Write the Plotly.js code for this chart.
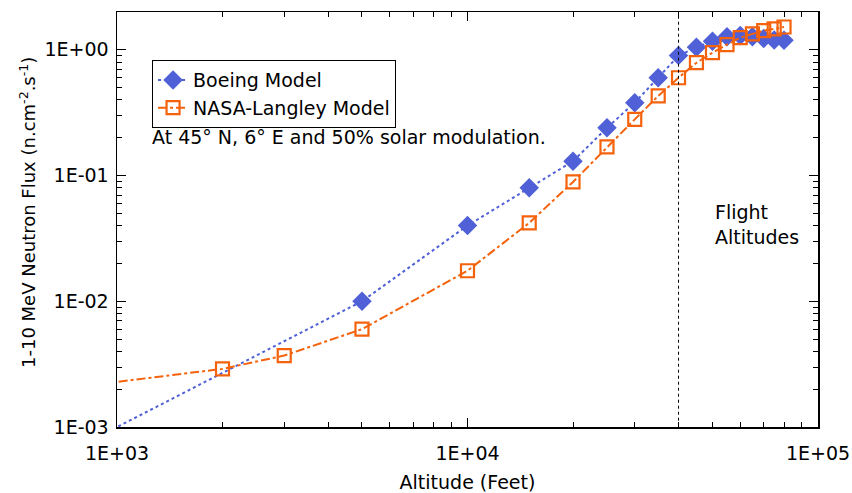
<!DOCTYPE html>
<html>
<head>
<meta charset="utf-8">
<script src="https://cdn.plot.ly/plotly-3.0.1.min.js"></script>
<style>html,body{margin:0;padding:0;background:#fff;}#chart{width:852px;height:493px;}</style>
</head>
<body>
<div id="chart"></div>
<script>
// Altitude in feet
const boeingAltitude = [500, 5000, 10000, 15000, 20000, 25000, 30000, 35000, 40000, 45000, 50000, 55000, 60000, 65000, 70000, 75000, 80000];
const boeingFlux = [0.00037, 0.01, 0.04, 0.08, 0.13, 0.24, 0.38, 0.6, 0.9, 1.05, 1.17, 1.27, 1.3, 1.27, 1.23, 1.2, 1.19];

const nasaAltitude = [500, 2000, 3000, 5000, 10000, 15000, 20000, 25000, 30000, 35000, 40000, 45000, 50000, 55000, 60000, 65000, 70000, 75000, 80000];
const nasaFlux = [0.0018, 0.0029, 0.0037, 0.006, 0.0175, 0.042, 0.089, 0.169, 0.28, 0.43, 0.6, 0.79, 0.95, 1.1, 1.25, 1.34, 1.42, 1.47, 1.52];

const flightAltitudeLineX = [40000, 40000];
const flightAltitudeLineY = [0.0001, 10];

const xTickVals = [1000, 10000, 100000];
const xTickText = ['1E+03', '1E+04', '1E+05'];
const yTickVals = [0.001, 0.01, 0.1, 1];
const yTickText = ['1E-03', '1E-02', '1E-01', '1E+00'];

function minorTicks(startExp, endExp) {
  const out = [];
  for (let e = startExp; e <= endExp; e++) {
    for (let m = 2; m <= 9; m++) out.push(m * Math.pow(10, e));
  }
  return out;
}

const blue = '#5060d6';
const orange = '#f5620c';
const font = {family: 'DejaVu Sans, sans-serif', size: 19, color: '#000'};
const yTitleFont = {family: 'DejaVu Sans, sans-serif', size: 18, color: '#000'};

const traces = [
  {
    x: boeingAltitude, y: boeingFlux, name: 'Boeing Model',
    mode: 'lines+markers', type: 'scatter',
    line: {color: blue, width: 2, dash: 'dot'},
    marker: {symbol: 'diamond', size: 15, color: blue}
  },
  {
    x: nasaAltitude, y: nasaFlux, name: 'NASA-Langley Model',
    mode: 'lines+markers', type: 'scatter',
    line: {color: orange, width: 2, dash: 'dashdot'},
    marker: {symbol: 'square-open', size: 13, color: orange, line: {width: 2.2, color: orange}}
  },
  {
    x: flightAltitudeLineX, y: flightAltitudeLineY, mode: 'lines', type: 'scatter',
    line: {color: '#000', width: 1, dash: 'dot'}, showlegend: false, hoverinfo: 'skip'
  }
];

const axisCommon = {
  type: 'log',
  showgrid: false, zeroline: false,
  showline: true, linecolor: '#000', linewidth: 1.5, mirror: 'ticks',
  ticks: 'inside', ticklen: 9, tickwidth: 1, tickcolor: '#000',
  tickfont: font
};

const layout = {
  width: 852, height: 493,
  margin: {l: 117, r: 34, t: 12, b: 66},
  paper_bgcolor: '#fff', plot_bgcolor: '#fff',
  font: font,
  showlegend: true,
  legend: {
    x: 0.05, y: 0.884, xanchor: 'left', yanchor: 'top',
    bordercolor: '#000', borderwidth: 1, bgcolor: '#fff',
    font: font, traceorder: 'normal', tracegroupgap: 0
  },
  xaxis: Object.assign({}, axisCommon, {
    range: [3, 5],
    tickvals: xTickVals, ticktext: xTickText,
    ticklabelstandoff: 9,
    minor: {tickvals: minorTicks(3, 4), ticks: 'inside', ticklen: 5, tickwidth: 1, tickcolor: '#000'},
    title: {text: 'Altitude (Feet)', font: font, standoff: 14}
  }),
  yaxis: Object.assign({}, axisCommon, {
    range: [-3, Math.log10(2)],
    tickvals: yTickVals, ticktext: yTickText,
    ticklabelstandoff: 3,
    minor: {tickvals: minorTicks(-3, 0), ticks: 'inside', ticklen: 5, tickwidth: 1, tickcolor: '#000'}
  }),
  annotations: [
    {xref: 'paper', yref: 'paper', x: -0.127, y: 0.518, xanchor: 'center', yanchor: 'middle', textangle: -90,
     text: '1-10 MeV Neutron Flux (n.cm<sup>-2</sup>.s<sup>-1</sup>)', showarrow: false, font: yTitleFont},
    {xref: 'paper', yref: 'paper', x: 0.047, y: 0.699, xanchor: 'left', yanchor: 'middle',
     text: 'At 45° N, 6° E and 50% solar modulation.', showarrow: false, font: font},
    {xref: 'paper', yref: 'paper', x: 0.85, y: 0.487, xanchor: 'left', yanchor: 'middle', align: 'left',
     text: 'Flight<br>Altitudes', showarrow: false, font: font}
  ]
};

Plotly.newPlot('chart', traces, layout, {displayModeBar: false, staticPlot: true});
</script>
</body>
</html>
